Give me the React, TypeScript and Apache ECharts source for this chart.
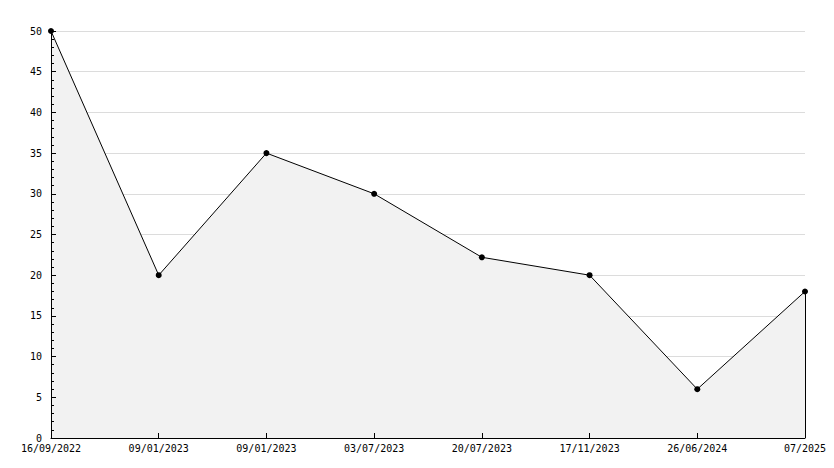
import React, { useEffect, useRef } from "react";
import * as echarts from "echarts";

const categories = [
  "16/09/2022",
  "09/01/2023",
  "09/01/2023",
  "03/07/2023",
  "20/07/2023",
  "17/11/2023",
  "26/06/2024",
  "07/2025",
];
const values = [50, 20, 35, 30, 22.2, 20, 6, 18];
const yMin = 0;
const yMax = 50;
const yInterval = 5;

export default function App() {
  const ref = useRef<HTMLDivElement>(null);
  useEffect(() => {
    if (!ref.current) return;
    const chart = echarts.init(ref.current, null, { renderer: "svg" });
    const font = "DejaVu Sans Mono";
    const lastIdx = values.length - 1;
    chart.setOption({
      animation: false,
      backgroundColor: "#ffffff",
      grid: { left: 51, right: 29, top: 31, bottom: 30, containLabel: false },
      xAxis: {
        type: "category",
        data: categories,
        boundaryGap: false,
        z: 5,
        axisLine: { show: true, lineStyle: { color: "#000", width: 1 } },
        axisTick: { show: true, inside: true, length: 5, lineStyle: { color: "#000" } },
        axisLabel: {
          color: "#000",
          fontFamily: font,
          fontSize: 10,
          margin: 5,
          interval: 0,
          showMinLabel: true,
          showMaxLabel: true,
        },
        splitLine: { show: false },
      },
      yAxis: [
        {
          type: "value",
          min: yMin,
          max: yMax,
          interval: yInterval,
          z: 0,
          axisLine: { show: false },
          axisTick: { show: false },
          axisLabel: { show: false },
          splitLine: { show: true, lineStyle: { color: "#dcdcdc", width: 1 } },
        },
        {
          type: "value",
          position: "left",
          min: yMin,
          max: yMax,
          interval: yInterval,
          z: 5,
          axisLine: { show: true, lineStyle: { color: "#000", width: 1 } },
          axisTick: { show: true, inside: true, length: 5, lineStyle: { color: "#000" } },
          minorTick: { show: true, splitNumber: 5, length: 3, lineStyle: { color: "#000" } },
          axisLabel: { color: "#000", fontFamily: font, fontSize: 10, margin: 9 },
          splitLine: { show: false },
        },
      ],
      series: [
        {
          type: "line",
          yAxisIndex: 0,
          data: values,
          symbol: "circle",
          symbolSize: 6,
          itemStyle: { color: "#000" },
          lineStyle: { color: "#000", width: 1 },
          areaStyle: { color: "#f2f2f2", opacity: 1 },
          markLine: {
            silent: true,
            symbol: ["none", "none"],
            label: { show: false },
            lineStyle: { color: "#000", width: 1, type: "solid" },
            data: [[{ coord: [lastIdx, values[lastIdx]] }, { coord: [lastIdx, yMin] }]],
          },
        },
      ],
    });
    return () => chart.dispose();
  }, []);
  return (
    <div
      ref={ref}
      style={{ position: "fixed", left: 0, top: 0, width: 834, height: 468 }}
    />
  );
}
